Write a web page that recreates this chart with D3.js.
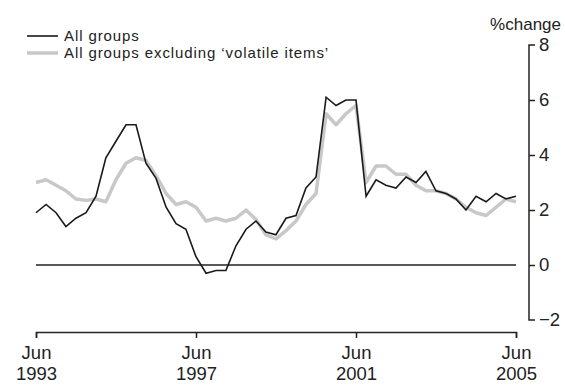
<!DOCTYPE html>
<html>
<head>
<meta charset="utf-8">
<script src="https://cdn.jsdelivr.net/npm/d3@7"></script>
<style>
  html, body { margin: 0; padding: 0; background: #fff; }
  svg { display: block; font-family: "Liberation Sans", Arial, sans-serif; }
</style>
</head>
<body>
<svg id="chart" width="565" height="385"></svg>
<script>
// Quarterly, Jun 1993 .. Jun 2005
const startQuarter = "1993-06";
const allGroups = [
  1.9, 2.2, 1.9, 1.4, 1.7, 1.9, 2.5, 3.9, 4.5, 5.1,
  5.1, 3.7, 3.15, 2.1, 1.5, 1.3, 0.3, -0.3, -0.2, -0.2,
  0.7, 1.3, 1.6, 1.2, 1.1, 1.7, 1.8, 2.8, 3.2, 6.1,
  5.8, 6.0, 6.0, 2.5, 3.1, 2.9, 2.8, 3.2, 3.0, 3.4,
  2.7, 2.6, 2.4, 2.0, 2.5, 2.3, 2.6, 2.4, 2.5
];
const exVolatile = [
  3.0, 3.1, 2.9, 2.7, 2.4, 2.35, 2.4, 2.3, 3.1, 3.7,
  3.9, 3.8, 3.25, 2.6, 2.2, 2.3, 2.1, 1.6, 1.7, 1.6,
  1.7, 2.0, 1.65, 1.1, 0.95, 1.25, 1.6, 2.2, 2.6, 5.5,
  5.1, 5.5, 5.8, 3.0, 3.6, 3.6, 3.3, 3.3, 2.9, 2.7,
  2.7, 2.6, 2.4, 2.1, 1.9, 1.8, 2.1, 2.4, 2.3
];
const seriesNames = ["All groups", "All groups excluding \u2018volatile items\u2019"];
const yTicks = [-2, 0, 2, 4, 6, 8];
const xTickYears = [1993, 1997, 2001, 2005];
const yUnit = "%change";

const svg = d3.select("#chart");
const start = d3.timeParse("%Y-%m")(startQuarter);
const dates = allGroups.map((d, i) => d3.timeMonth.offset(start, 3 * i));

const x = d3.scaleTime()
  .domain([dates[0], dates[dates.length - 1]])
  .range([36, 516]);
const y = d3.scaleLinear().domain([-2, 8]).range([320, 45]);

// zero line
svg.append("line")
  .attr("x1", x.range()[0]).attr("x2", x.range()[1])
  .attr("y1", y(0)).attr("y2", y(0))
  .attr("stroke", "#222").attr("stroke-width", 1.5);

const line = d3.line()
  .x((d, i) => x(dates[i]))
  .y(d => y(d));

svg.append("path").datum(exVolatile)
  .attr("d", line).attr("fill", "none")
  .attr("stroke", "#c8c8c8").attr("stroke-width", 3.5)
  .attr("stroke-linejoin", "round");

svg.append("path").datum(allGroups)
  .attr("d", line).attr("fill", "none")
  .attr("stroke", "#1a1a1a").attr("stroke-width", 1.6)
  .attr("stroke-linejoin", "miter");

// Y axis (right)
const yAxis = svg.append("g")
  .attr("transform", "translate(529,0)")
  .call(d3.axisRight(y).tickValues(yTicks).tickSize(6).tickPadding(4)
    .tickFormat(d => d < 0 ? "\u2212" + Math.abs(d) : d));
yAxis.select(".domain").attr("d", "M6," + y(8) + "H0V" + y(-2) + "H6")
  .attr("stroke", "#222").attr("stroke-width", 1.5);
yAxis.selectAll(".tick line").attr("stroke", "#222").attr("stroke-width", 1.5);
yAxis.selectAll(".tick text").attr("font-size", 18.5).attr("fill", "#222")
  .attr("font-family", "Liberation Sans, Arial, sans-serif");
yAxis.selectAll(".tick").filter(d => d === 8 || d === -2).select("line").remove();

svg.append("text")
  .attr("x", 561).attr("y", 30)
  .attr("text-anchor", "end")
  .attr("font-size", 17).attr("fill", "#222")
  .text(yUnit);

// X axis
const xTickDates = xTickYears.map(yr => new Date(yr, 5, 1));
const xAxis = svg.append("g")
  .attr("transform", "translate(0,332)")
  .call(d3.axisBottom(x).tickValues(xTickDates).tickSize(6).tickFormat(""));
xAxis.select(".domain").attr("stroke", "#222").attr("stroke-width", 1.5);
xAxis.selectAll(".tick line").attr("stroke", "#222").attr("stroke-width", 1.5);
const xt = xAxis.selectAll(".tick");
xt.append("text").attr("y", 27).attr("text-anchor", "middle")
  .attr("font-size", 18.5).attr("fill", "#222").text("Jun");
xt.append("text").attr("y", 48).attr("text-anchor", "middle")
  .attr("font-size", 18.5).attr("fill", "#222").text(d => d.getFullYear());

// Legend
const legend = svg.append("g");
const legendItems = [
  { name: seriesNames[0], color: "#1a1a1a", w: 1.6 },
  { name: seriesNames[1], color: "#c8c8c8", w: 3.5 }
];
legendItems.forEach((it, i) => {
  const yy = 36 + i * 17;
  legend.append("line").attr("x1", 27).attr("x2", 58)
    .attr("y1", yy).attr("y2", yy)
    .attr("stroke", it.color).attr("stroke-width", it.w);
  legend.append("text").attr("x", 64).attr("y", yy + 5.2)
    .attr("font-size", 15).attr("letter-spacing", 0.9)
    .attr("fill", "#222").text(it.name);
});
</script>
</body>
</html>
